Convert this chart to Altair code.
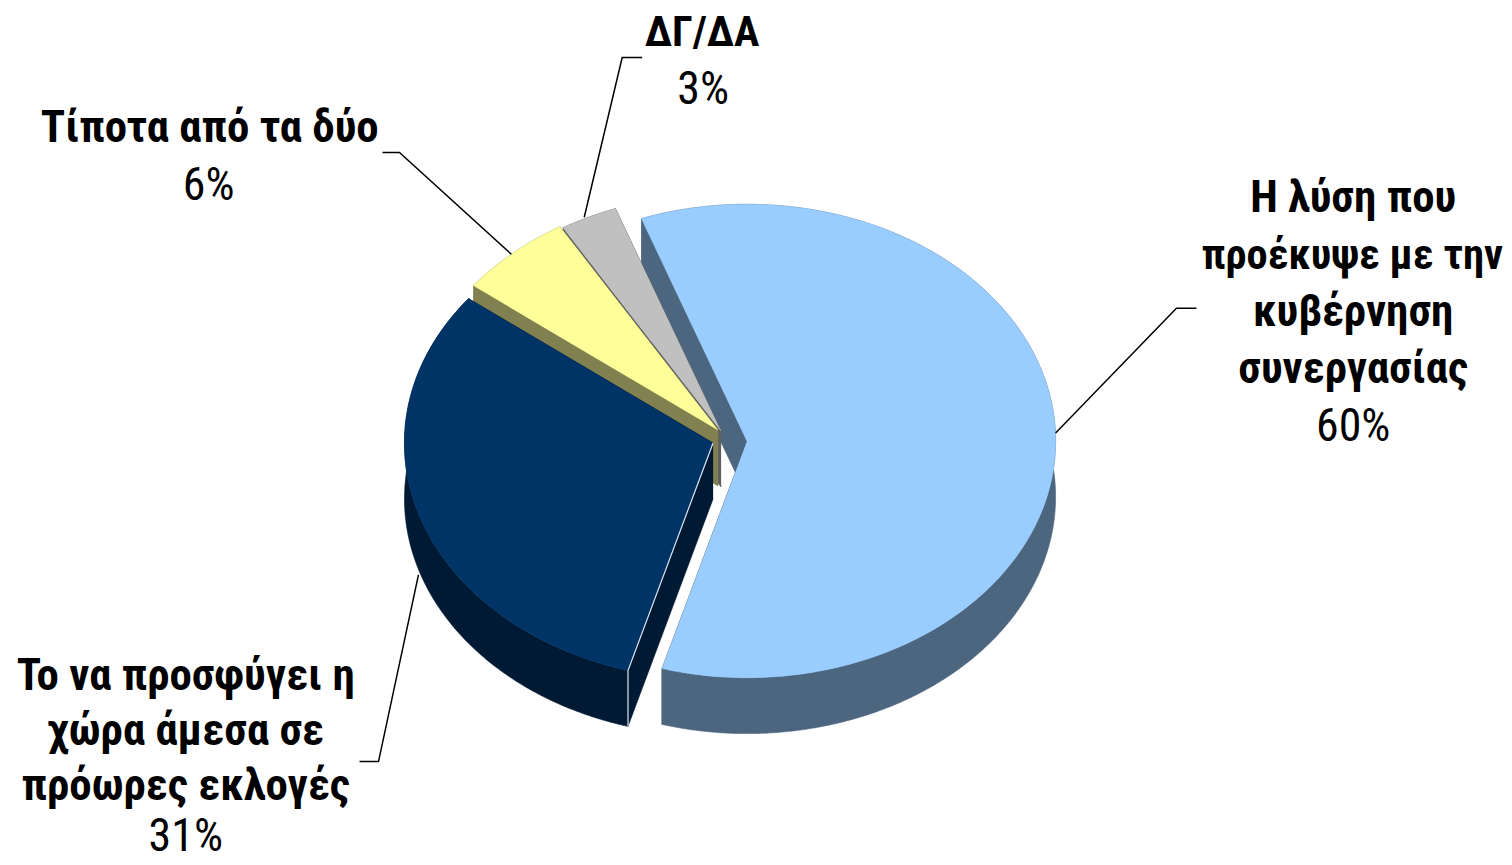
import altair as alt
import numpy as np
import pandas as pd

# ---- data ----
categories = ["Η λύση που προέκυψε με την κυβέρνηση συνεργασίας",
              "Το να προσφύγει η χώρα άμεσα σε πρόωρες εκλογές",
              "Τίποτα από τα δύο",
              "ΔΓ/ΔΑ"]
shares = [60, 31, 6, 3]
top_colors = ["#99CCFF", "#003366", "#FFFF99", "#C0C0C0"]
wall_colors = ["#4D6680", "#001A33", "#808050", "#606060"]

# ---- layout (page pixels) ----
W, H = 1496, 845
OFF = 8
RX, RY, DEPTH = 309, 237, 56
START = 340.0
apex = {0: (748, 441), 1: (714, 443), 2: (719, 430), 3: (722, 431)}
FONT = "Roboto Condensed, Arial Narrow, Roboto"

sx = alt.Scale(domain=[0, W], range=[0, W], nice=False, zero=False)
sy = alt.Scale(domain=[0, H], range=[0, H], nice=False, zero=False)


def poly(points, fill):
    df = pd.DataFrame({"x": [p[0] - OFF for p in points],
                       "y": [p[1] - OFF for p in points],
                       "i": range(len(points))})
    return alt.Chart(df).mark_line(fill=fill, stroke=fill, strokeWidth=0.6, interpolate="linear").encode(
        x=alt.X("x:Q", scale=sx, axis=None),
        y=alt.Y("y:Q", scale=sy, axis=None),
        order="i:Q",
    )


def rim(idx, a0, a1):
    cx, cy = apex[idx]
    n = max(int(abs(a1 - a0)) * 2, 4)
    t = np.radians(np.linspace(a0, a1, n))
    return [(cx + RX * np.sin(v), cy - RY * np.cos(v)) for v in t]


def down(pts):
    return [(x, y + DEPTH) for x, y in pts]


# slice angles from the shares
angles = {}
a = START
for k, s in enumerate(shares):
    angles[k] = (a, a + s * 3.6)
    a += s * 3.6

layers = []
for k in [0, 3, 2, 1]:  # back to front
    a0, a1 = angles[k]
    edge = rim(k, a0, a1)
    ap = apex[k]
    layers.append(poly(edge + down(edge)[::-1], wall_colors[k]))
    for tip in (edge[0], edge[-1]):
        layers.append(poly([ap, tip, (tip[0], tip[1] + DEPTH), (ap[0], ap[1] + DEPTH)], wall_colors[k]))
    layers.append(poly([ap] + edge, top_colors[k]))

# white highlight on the navy front edge
navy_tip = rim(1, *angles[1])[0]
highlight = [apex[1], navy_tip, (navy_tip[0], navy_tip[1] + DEPTH)]
hl_df = pd.DataFrame({"x": [p[0] - OFF for p in highlight],
                      "y": [p[1] - OFF for p in highlight],
                      "i": range(3)})
layers.append(alt.Chart(hl_df).mark_line(color="#DDE6F0", strokeWidth=1.2).encode(
    x=alt.X("x:Q", scale=sx, axis=None), y=alt.Y("y:Q", scale=sy, axis=None), order="i:Q"))

# leader lines
leaders = [
    [(1057, 433), (1178, 308), (1198, 308)],
    [(419, 575), (379, 762), (360, 762)],
    [(512, 254), (400, 152), (383, 152)],
    [(585, 217), (623, 57), (643, 57)],
]
for ld in leaders:
    d = pd.DataFrame({"x": [p[0] - OFF for p in ld], "y": [p[1] - OFF for p in ld], "i": range(len(ld))})
    layers.append(alt.Chart(d).mark_line(color="black", strokeWidth=1.5).encode(
        x=alt.X("x:Q", scale=sx, axis=None), y=alt.Y("y:Q", scale=sy, axis=None), order="i:Q"))

# labels
label_groups = [
    ("bold", 45, [("Η λύση που", 1355, 212), ("κυβέρνηση", 1355, 326), ("συνεργασίας", 1355, 383),
                  ("Το να προσφύγει η", 186, 690), ("χώρα άμεσα σε", 186, 745), ("πρόωρες εκλογές", 186, 800),
                  ("Τίποτα από τα δύο", 210, 142)]),
    ("bold", 42.5, [("προέκυψε με την", 1354, 269), ("ΔΓ/ΔΑ", 703, 45)]),
    ("normal", 46, [("60%", 1355, 441), ("31%", 186, 852), ("6%", 209, 200), ("3%", 704, 104)]),
]

for weight, size, rows in label_groups:
    d = pd.DataFrame({"t": [r[0] for r in rows], "x": [r[1] - OFF for r in rows], "y": [r[2] - OFF for r in rows]})
    layers.append(alt.Chart(d).mark_text(font=FONT, fontSize=size, fontWeight=weight, color="black",
                                         align="center", baseline="alphabetic").encode(
        x=alt.X("x:Q", scale=sx, axis=None), y=alt.Y("y:Q", scale=sy, axis=None), text="t:N"))

chart = alt.layer(*layers).properties(width=W, height=H, padding=0).configure_view(stroke=None)
chart.save("out.html", embed_options={"renderer": "svg", "actions": False})
